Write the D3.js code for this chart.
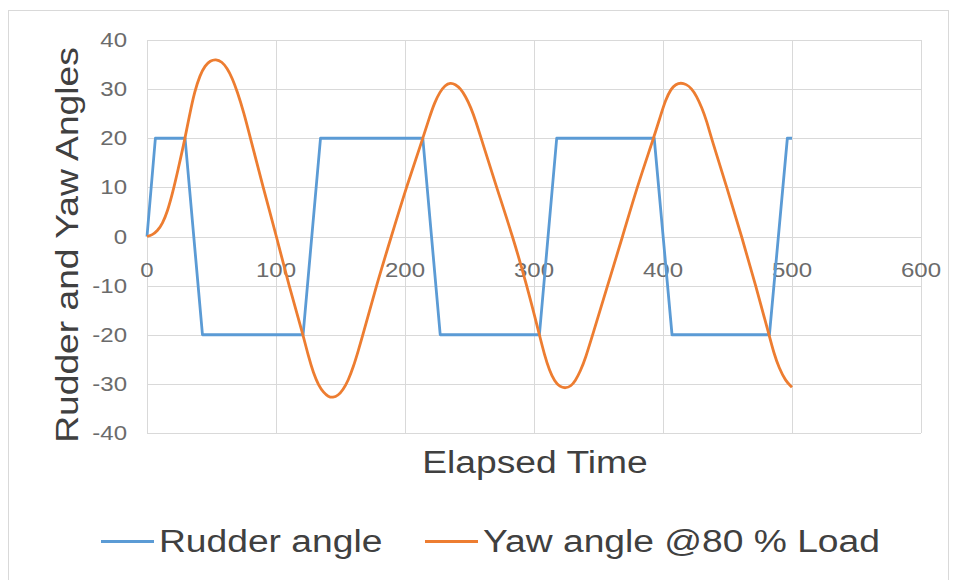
<!DOCTYPE html>
<html>
<head>
<meta charset="utf-8">
<script src="https://cdn.jsdelivr.net/npm/d3@7"></script>
<style>
  html, body { margin: 0; padding: 0; background: #fff; }
  svg { display: block; }
  text { font-family: "Liberation Sans", Arial, sans-serif; }
</style>
</head>
<body>
<svg id="chart" width="958" height="580"></svg>
<script>
// Rudder command (square-ish wave between +20 and -20 degrees)
const rudderTime  = [0, 6.5, 29.5, 43, 121, 134.5, 213.8, 227.3, 304.2, 317.6, 393.2, 407, 482.5, 496.4, 500];
const rudderAngle = [0, 20, 20, -20, -20, 20, 20, -20, -20, 20, 20, -20, -20, 20, 20];

// Ship yaw response at 80 % load
const yawTime = [
  0, 4, 8, 12, 16, 20, 24, 29.5, 33, 37, 41, 45, 49, 53.4, 58, 62, 66, 70, 75, 80.2, 90,
  100.4, 110, 121, 125, 129, 133, 137, 140.5, 144.2, 148, 152, 156, 160, 163.5, 167.4, 177.8, 189.4, 201,
  213.9, 219, 223, 227, 231, 235.1, 239, 243, 247, 251, 255, 259, 271, 283.5, 294.5,
  304.2, 308, 312, 316, 320, 324.5, 328.5, 332, 336, 340, 345.5, 357, 368.7, 379.8,
  392.7, 398, 402, 406, 410, 413.8, 418, 422, 426, 430, 434, 437.5, 449.5, 461, 471.9,
  482.2, 486, 490, 495, 500];
const yawAngle = [
  0, 0.3, 1.1, 2.6, 5.2, 9, 13.5, 20, 24.8, 29.6, 32.8, 34.8, 35.8, 36.1, 35.6, 34.3, 32.3, 29.5, 25.3, 20, 10,
  0, -10, -20, -24.3, -27.8, -30.3, -31.8, -32.6, -32.8, -32.4, -31.2, -29.3, -26.5, -23.5, -20, -10, 0, 10,
  20, 24.3, 27.3, 29.4, 30.8, 31.3, 31, 30.1, 28.5, 26.3, 23.4, 20, 10, 0, -10,
  -20, -24, -27.3, -29.5, -30.6, -30.9, -30.5, -29.4, -27.4, -24.7, -20, -10, 0, 10,
  20, 24.5, 27.8, 30, 31, 31.3, 31, 30.2, 28.6, 26.3, 23.4, 20, 10, 0, -10,
  -20, -23.8, -26.8, -29.4, -30.7];

const xTicks = [0, 100, 200, 300, 400, 500, 600];
const yTicks = [-40, -30, -20, -10, 0, 10, 20, 30, 40];

const seriesNames = ["Rudder angle", "Yaw angle @80 % Load"];
const seriesColors = ["#5B9BD5", "#ED7D31"];

const svg = d3.select("#chart");

// chart frame
svg.append("rect")
  .attr("x", 8.5).attr("y", 10.5)
  .attr("width", 940).attr("height", 600)
  .attr("fill", "#fff").attr("stroke", "#d9d9d9").attr("stroke-width", 1);

const x = d3.scaleLinear().domain([0, 600]).range([147, 921]);
const y = d3.scaleLinear().domain([-40, 40]).range([433, 40]);

// widen text glyphs horizontally along the run of the text
function widen(sel, factor) {
  sel.each(function () {
    const len = this.getComputedTextLength();
    d3.select(this).attr("textLength", len * factor).attr("lengthAdjust", "spacingAndGlyphs");
  });
}

// gridlines
const grid = svg.append("g").attr("stroke", "#d9d9d9").attr("stroke-width", 1);
grid.selectAll("line.h").data(yTicks).join("line")
  .attr("x1", x(0)).attr("x2", x(600))
  .attr("y1", d => Math.round(y(d)) + 0.5).attr("y2", d => Math.round(y(d)) + 0.5);
grid.selectAll("line.v").data(xTicks).join("line")
  .attr("y1", y(40)).attr("y2", y(-40))
  .attr("x1", d => Math.round(x(d)) + 0.5).attr("x2", d => Math.round(x(d)) + 0.5);

// y tick labels
const yLab = svg.append("g").selectAll("text").data(yTicks).join("text")
  .attr("x", 127).attr("y", d => y(d) + 7)
  .attr("text-anchor", "end")
  .attr("font-size", 20).attr("fill", "#6b6b6b")
  .text(d => d);
widen(yLab, 1.2);

// x tick labels, sitting on the zero line
const xLab = svg.append("g").selectAll("text").data(xTicks).join("text")
  .attr("x", d => x(d)).attr("y", y(0) + 40)
  .attr("text-anchor", "middle")
  .attr("font-size", 20).attr("fill", "#6b6b6b")
  .text(d => d);
widen(xLab, 1.2);

// series lines
const rudder = rudderTime.map((t, i) => [t, rudderAngle[i]]);
const yaw = yawTime.map((t, i) => [t, yawAngle[i]]);

svg.append("path").datum(rudder)
  .attr("fill", "none").attr("stroke", seriesColors[0]).attr("stroke-width", 2.8)
  .attr("stroke-linejoin", "round")
  .attr("d", d3.line().x(d => x(d[0])).y(d => y(d[1])));

svg.append("path").datum(yaw)
  .attr("fill", "none").attr("stroke", seriesColors[1]).attr("stroke-width", 2.8)
  .attr("stroke-linejoin", "round")
  .attr("d", d3.line().x(d => x(d[0])).y(d => y(d[1])).curve(d3.curveBasis));

// axis titles
const xTitle = svg.append("text")
  .attr("x", 535).attr("y", 473)
  .attr("text-anchor", "middle")
  .attr("font-size", 31).attr("fill", "#404040")
  .text("Elapsed Time");
widen(xTitle, 1.2);

const yTitle = svg.append("text")
  .attr("transform", "translate(78,245) rotate(-90)")
  .attr("text-anchor", "middle")
  .attr("font-size", 31).attr("fill", "#404040")
  .text("Rudder and Yaw Angles");
widen(yTitle, 1.2);

// legend
const legendItems = [
  { name: seriesNames[0], color: seriesColors[0], x0: 101 },
  { name: seriesNames[1], color: seriesColors[1], x0: 425 }
];
const lg = svg.append("g").selectAll("g").data(legendItems).join("g");
lg.append("line")
  .attr("x1", d => d.x0).attr("x2", d => d.x0 + 53)
  .attr("y1", 541.5).attr("y2", 541.5)
  .attr("stroke", d => d.color).attr("stroke-width", 2.8);
const lgText = lg.append("text")
  .attr("x", d => d.x0 + 58).attr("y", 552)
  .attr("font-size", 31).attr("fill", "#404040")
  .text(d => d.name);
widen(lgText, 1.2);
</script>
</body>
</html>
